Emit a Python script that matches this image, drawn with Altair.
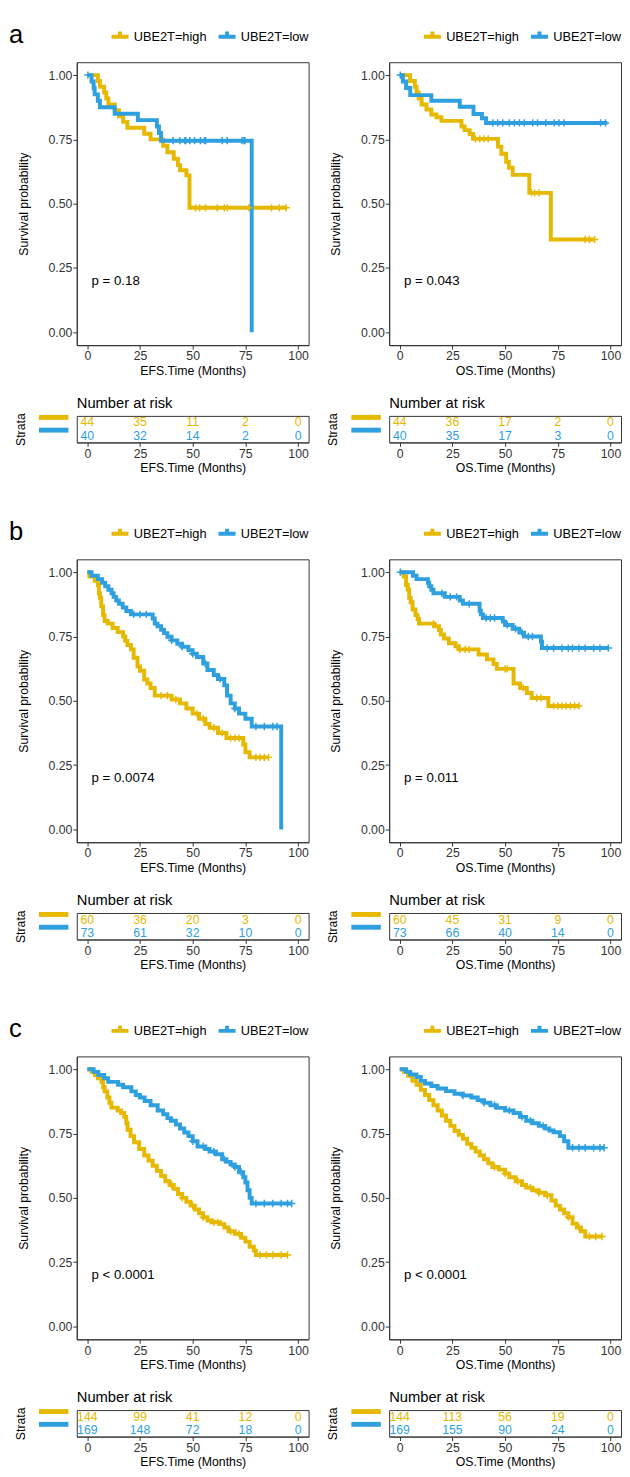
import bisect
import altair as alt
import pandas as pd

YEL = "#E7B800"
BLU = "#2E9FDF"
STRATA = ["UBE2T=high", "UBE2T=low"]
FONT = "Liberation Sans"
RISK_T = [0, 25, 50, 75, 100]

# ---------------- panel a ----------------
a_efs_high_t = [0, 5, 6, 8, 9, 10, 13, 15, 17, 19, 27, 30, 36, 38, 41, 43, 44, 47, 48.5, 94.5]
a_efs_high_s = [1.0, 0.977, 0.955, 0.932, 0.909, 0.886, 0.863, 0.84, 0.818, 0.795, 0.772, 0.75, 0.725, 0.70, 0.675, 0.65, 0.63, 0.61, 0.484, 0.484]
a_efs_high_c = [51.4, 53.3, 56.1, 61.7, 65, 66.4, 76.6, 87.4, 91.1, 94.4]
a_efs_low_t = [0, 2, 3, 3.5, 5, 6, 13, 24, 33, 34, 35, 78]
a_efs_low_s = [1.0, 0.975, 0.95, 0.925, 0.90, 0.875, 0.85, 0.825, 0.80, 0.775, 0.745, 0.0]
a_efs_low_c = [0.3, 40.7, 43.9, 46.3, 46.7, 48.6, 50.9, 53.7, 55.6, 56.1, 64, 66.4, 73.4, 74.3, 74.8]

a_os_high_t = [0, 4.9, 7.2, 8.0, 9.0, 10.4, 12.7, 15.0, 17.4, 19.8, 29.3, 30.8, 33.2, 34.8, 46.6, 48.2, 50.5, 51.8, 53.6, 61.5, 71.7, 92.5]
a_os_high_s = [1.0, 0.977, 0.955, 0.932, 0.909, 0.886, 0.866, 0.847, 0.836, 0.822, 0.80, 0.786, 0.771, 0.752, 0.722, 0.694, 0.663, 0.64, 0.612, 0.542, 0.361, 0.361]
a_os_high_c = [36, 38, 40, 42, 62.5, 64, 66, 88, 90, 92.5]
a_os_low_t = [0, 1.5, 3.0, 5.0, 15.0, 28.5, 35.0, 39.0, 41.0, 98.5]
a_os_low_s = [1.0, 0.975, 0.95, 0.922, 0.90, 0.877, 0.849, 0.832, 0.814, 0.814]
a_os_low_c = [0.3, 44.2, 46.5, 48.9, 52, 54.4, 56.8, 59.1, 63.1, 65.4, 69.3, 73.3, 75.6, 78, 95.3, 97.6]

a_efs_risk_high = [44, 35, 11, 2, 0]
a_efs_risk_low = [40, 32, 14, 2, 0]
a_os_risk_high = [44, 36, 17, 2, 0]
a_os_risk_low = [40, 35, 17, 3, 0]

# ---------------- panel b ----------------
b_efs_high_t = [0, 1, 3.5, 5, 5.5, 6, 6.6, 7.5, 8.2, 9.7, 12, 14.4, 17, 18, 19, 20.7, 22, 23.8, 25, 27, 28.5, 30, 32, 40, 44, 47, 50, 53, 56, 58, 62, 66, 74, 75, 77, 86]
b_efs_high_s = [1.0, 0.983, 0.967, 0.95, 0.917, 0.9, 0.867, 0.833, 0.81, 0.80, 0.783, 0.767, 0.75, 0.733, 0.717, 0.70, 0.667, 0.633, 0.617, 0.583, 0.567, 0.55, 0.52, 0.505, 0.49, 0.47, 0.45, 0.43, 0.41, 0.395, 0.375, 0.355, 0.33, 0.30, 0.28, 0.28]
b_efs_high_c = [35, 38, 42, 52, 55, 60, 64, 68, 70, 72, 80, 82, 84, 86]
b_efs_low_t = [0, 2, 5, 7, 8.5, 10, 11.5, 12.5, 13.7, 15, 16.8, 18.5, 20.7, 31, 32, 33.3, 35, 36.4, 38, 40, 42.7, 45, 48, 50, 52, 55, 57, 60, 62, 65, 66.3, 68, 70, 72, 75, 78, 92]
b_efs_low_s = [1.0, 0.986, 0.973, 0.959, 0.945, 0.932, 0.918, 0.904, 0.89, 0.877, 0.863, 0.849, 0.836, 0.82, 0.80, 0.79, 0.776, 0.763, 0.749, 0.735, 0.722, 0.71, 0.697, 0.683, 0.67, 0.645, 0.62, 0.60, 0.585, 0.56, 0.52, 0.49, 0.47, 0.45, 0.43, 0.40, 0.0]
b_efs_low_c = [22, 25, 28, 40, 45, 50, 56, 63, 70, 80, 84, 88, 90]

b_os_high_t = [0, 1.9, 3, 3.8, 4.5, 5.2, 6.1, 7.5, 8.5, 9.2, 16.3, 18.6, 19.5, 21, 23.3, 26.5, 28, 37.4, 41.4, 44.5, 46.1, 54, 57.1, 60.3, 62.6, 70.5, 85.4]
b_os_high_s = [1.0, 0.983, 0.95, 0.933, 0.9, 0.883, 0.855, 0.833, 0.817, 0.80, 0.79, 0.775, 0.758, 0.742, 0.724, 0.712, 0.70, 0.68, 0.661, 0.643, 0.624, 0.567, 0.55, 0.53, 0.511, 0.48, 0.48]
b_os_high_c = [16, 28.5, 31, 33, 50, 51, 58.5, 65, 67, 73, 75, 77, 79, 81, 83, 85]
b_os_low_t = [0, 6.3, 8, 13.4, 14, 15, 16, 21.4, 28.5, 30, 37.9, 38.5, 39.5, 48.9, 50, 53.6, 56.8, 59, 67, 67.5, 99]
b_os_low_s = [1.0, 0.986, 0.973, 0.959, 0.945, 0.932, 0.918, 0.904, 0.89, 0.877, 0.85, 0.836, 0.822, 0.808, 0.795, 0.78, 0.765, 0.75, 0.73, 0.705, 0.705]
b_os_low_c = [0.3, 20, 24, 27, 33, 41, 43, 45, 51, 55, 58, 61, 63, 70, 73, 77, 80, 82, 85, 88, 92, 95, 99]

b_efs_risk_high = [60, 36, 20, 3, 0]
b_efs_risk_low = [73, 61, 32, 10, 0]
b_os_risk_high = [60, 45, 31, 9, 0]
b_os_risk_low = [73, 66, 40, 14, 0]

# ---------------- panel c ----------------
c_efs_high_t = [0, 2, 3.6, 5, 6.7, 7.5, 8.2, 9.5, 10.5, 11.4, 14.4, 16, 17.5, 18.5, 19.1, 20.5, 22.2, 24.6, 27, 29, 31, 33, 35, 37, 39, 41, 43, 45, 47, 49, 51, 53, 55, 57, 59, 63, 65, 67, 70, 73, 75, 77, 79, 80, 95]
c_efs_high_s = [1.0, 0.99, 0.978, 0.965, 0.951, 0.93, 0.914, 0.89, 0.87, 0.851, 0.84, 0.83, 0.815, 0.79, 0.765, 0.74, 0.716, 0.69, 0.665, 0.645, 0.625, 0.605, 0.585, 0.565, 0.55, 0.535, 0.515, 0.50, 0.485, 0.47, 0.455, 0.44, 0.425, 0.412, 0.405, 0.398, 0.385, 0.37, 0.36, 0.345, 0.33, 0.31, 0.295, 0.278, 0.278]
c_efs_high_c = [40, 45, 50, 55, 60, 62, 68, 72, 82, 85, 88, 92, 95]
c_efs_low_t = [0, 3, 5.2, 8, 9.9, 14.6, 17, 20.9, 23, 25, 27.2, 30, 33.4, 36, 38, 39.7, 42, 44, 46, 48, 50, 52.3, 56, 58, 61, 64, 66, 68, 70, 72, 74, 75, 76, 77, 78, 97]
c_efs_low_s = [1.0, 0.99, 0.978, 0.965, 0.951, 0.94, 0.93, 0.914, 0.90, 0.89, 0.877, 0.86, 0.84, 0.825, 0.81, 0.80, 0.785, 0.77, 0.754, 0.74, 0.72, 0.70, 0.69, 0.68, 0.67, 0.65, 0.64, 0.63, 0.62, 0.60, 0.58, 0.56, 0.53, 0.50, 0.478, 0.478]
c_efs_low_c = [50, 55, 60, 65, 70, 73, 80, 84, 88, 92, 95, 97]

c_os_high_t = [0, 2, 4, 6, 8, 10, 12, 14, 16, 18, 20, 22, 24, 26, 28, 30, 32, 34, 36, 38, 40, 42, 44, 47, 50, 52, 55, 58, 60, 63, 66, 69, 72, 74, 76, 78, 80, 82, 84, 86, 88, 96]
c_os_high_s = [1.0, 0.99, 0.975, 0.955, 0.94, 0.92, 0.90, 0.88, 0.86, 0.84, 0.82, 0.80, 0.78, 0.76, 0.745, 0.73, 0.71, 0.695, 0.68, 0.665, 0.65, 0.635, 0.62, 0.61, 0.595, 0.58, 0.565, 0.55, 0.54, 0.53, 0.52, 0.51, 0.49, 0.47, 0.455, 0.44, 0.425, 0.40, 0.385, 0.37, 0.35, 0.35]
c_os_high_c = [45, 50, 56, 62, 66, 70, 80, 85, 90, 93, 96]
c_os_low_t = [0, 3, 5, 8, 10, 12, 15, 18, 22, 26, 30, 34, 37, 40, 43, 46, 50, 54, 57, 60, 63, 66, 69, 71, 73, 76, 78, 80, 97]
c_os_low_s = [1.0, 0.99, 0.98, 0.97, 0.955, 0.945, 0.935, 0.925, 0.915, 0.905, 0.898, 0.89, 0.88, 0.87, 0.86, 0.85, 0.84, 0.83, 0.815, 0.80, 0.79, 0.78, 0.77, 0.762, 0.755, 0.74, 0.72, 0.695, 0.695]
c_os_low_c = [30, 40, 45, 52, 58, 62, 68, 82, 85, 88, 92, 95, 97]

c_efs_risk_high = [144, 99, 41, 12, 0]
c_efs_risk_low = [169, 148, 72, 18, 0]
c_os_risk_high = [144, 113, 56, 19, 0]
c_os_risk_low = [169, 155, 90, 24, 0]

# ---------------- helpers ----------------
COLOR_SCALE = alt.Scale(domain=STRATA, range=[YEL, BLU])
X_SCALE = alt.Scale(domain=[-5, 105], nice=False, zero=False)
Y_SCALE = alt.Scale(domain=[-0.05, 1.05], nice=False, zero=False)
W = 236
KM_H = 288
RISK_H = 27


def curve_df(t, s, name):
    return pd.DataFrame({"t": t, "s": s, "strata": name})


def censor_df(ct, t, s, name):
    vals = [s[max(bisect.bisect_right(t, c) - 1, 0)] for c in ct]
    return pd.DataFrame({"t": ct, "s": vals, "strata": name})


def km_chart(hi, lo, pval, xtitle, letter=None):
    curves = pd.concat([curve_df(hi[0], hi[1], STRATA[0]), curve_df(lo[0], lo[1], STRATA[1])])
    cens = pd.concat([censor_df(hi[2], hi[0], hi[1], STRATA[0]), censor_df(lo[2], lo[0], lo[1], STRATA[1])])
    legend = alt.Legend(
        orient="none", legendX=33, legendY=-37, direction="horizontal", title=None,
        symbolType="M-1,0H1M0,-0.15V-0.6", symbolSize=300, symbolStrokeWidth=4,
        labelFontSize=13, labelFont=FONT, labelColor="black", labelOffset=3,
        columnPadding=3, padding=0,
    )
    x = alt.X("t:Q", scale=X_SCALE, axis=alt.Axis(values=RISK_T, title=xtitle))
    y = alt.Y("s:Q", scale=Y_SCALE, axis=alt.Axis(values=[0, 0.25, 0.5, 0.75, 1.0], format=".2f",
                                                   title="Survival probability", titlePadding=18))
    line = alt.Chart(curves).mark_line(interpolate="step-after", strokeWidth=4, clip=True).encode(
        x=x, y=y, color=alt.Color("strata:N", scale=COLOR_SCALE, legend=legend)
    )
    pts = alt.Chart(cens).mark_point(shape="M-1,0H1M0,-1V1", size=56, strokeWidth=1.5, filled=False,
                                      opacity=1, clip=True).encode(
        x="t:Q", y="s:Q", color=alt.Color("strata:N", scale=COLOR_SCALE, legend=None)
    )
    ptxt = alt.Chart(pd.DataFrame({"p": [pval]})).mark_text(
        align="left", baseline="middle", fontSize=13.5, font=FONT, color="black"
    ).encode(x=alt.datum(2), y=alt.datum(0.2), text="p:N")
    layers = [line, pts, ptxt]
    if letter:
        lab = alt.Chart(pd.DataFrame({"l": [letter]})).mark_text(
            align="left", baseline="alphabetic", fontSize=26, font=FONT, color="black"
        ).encode(x=alt.value(-69), y=alt.value(-20), text="l:N")
        layers.append(lab)
    return alt.layer(*layers).properties(width=W, height=KM_H)


def risk_chart(hi, lo, xtitle):
    df = pd.DataFrame({"t": RISK_T + RISK_T, "n": hi + lo,
                       "strata": [STRATA[0]] * 5 + [STRATA[1]] * 5})
    return alt.Chart(df).mark_text(fontSize=12.5, font=FONT, baseline="middle").encode(
        x=alt.X("t:Q", scale=X_SCALE, axis=alt.Axis(values=RISK_T, title=xtitle)),
        y=alt.Y("strata:N", scale=alt.Scale(domain=STRATA, type="point", padding=0.5),
                axis=alt.Axis(title="Strata", labels=False, domain=False, tickSize=30, tickWidth=5,
                              offset=9, tickOffset=-6, titlePadding=9,
                              tickColor={"condition": {"test": "datum.value == 'UBE2T=high'", "value": YEL},
                                         "value": BLU})),
        text="n:Q",
        color=alt.Color("strata:N", scale=COLOR_SCALE, legend=None),
    ).properties(width=W, height=RISK_H,
                 title=alt.TitleParams("Number at risk", anchor="start", frame="group", fontSize=15,
                                       font=FONT, fontWeight="normal", color="black", offset=2))


def column(hi, lo, pval, xtitle, rhi, rlo, letter=None):
    return alt.vconcat(km_chart(hi, lo, pval, xtitle, letter), risk_chart(rhi, rlo, xtitle),
                       spacing=18).resolve_scale(color="independent", x="independent", y="independent"
                                                  ).resolve_legend(color="independent")


def row(left, right):
    return alt.hconcat(left, right, spacing=17).resolve_scale(
        color="independent", x="independent", y="independent").resolve_legend(color="independent")


row_a = row(
    column((a_efs_high_t, a_efs_high_s, a_efs_high_c), (a_efs_low_t, a_efs_low_s, a_efs_low_c),
           "p = 0.18", "EFS.Time (Months)", a_efs_risk_high, a_efs_risk_low, "a"),
    column((a_os_high_t, a_os_high_s, a_os_high_c), (a_os_low_t, a_os_low_s, a_os_low_c),
           "p = 0.043", "OS.Time (Months)", a_os_risk_high, a_os_risk_low),
)
row_b = row(
    column((b_efs_high_t, b_efs_high_s, b_efs_high_c), (b_efs_low_t, b_efs_low_s, b_efs_low_c),
           "p = 0.0074", "EFS.Time (Months)", b_efs_risk_high, b_efs_risk_low, "b"),
    column((b_os_high_t, b_os_high_s, b_os_high_c), (b_os_low_t, b_os_low_s, b_os_low_c),
           "p = 0.011", "OS.Time (Months)", b_os_risk_high, b_os_risk_low),
)
row_c = row(
    column((c_efs_high_t, c_efs_high_s, c_efs_high_c), (c_efs_low_t, c_efs_low_s, c_efs_low_c),
           "p < 0.0001", "EFS.Time (Months)", c_efs_risk_high, c_efs_risk_low, "c"),
    column((c_os_high_t, c_os_high_s, c_os_high_c), (c_os_low_t, c_os_low_s, c_os_low_c),
           "p < 0.0001", "OS.Time (Months)", c_os_risk_high, c_os_risk_low),
)

chart = alt.vconcat(row_a, row_b, row_c, spacing=44).resolve_scale(
    color="independent", x="independent", y="independent").resolve_legend(color="independent"
).properties(background="white", padding=0).configure_view(
    stroke="#333333", strokeWidth=1
).configure_axis(
    labelFont=FONT, labelFontSize=12.5, labelColor="#333333", titleFont=FONT, titleFontSize=12.5,
    titleFontWeight="normal", titleColor="black", tickColor="#333333", domainColor="#333333",
    tickSize=4, labelPadding=1, grid=False, titlePadding=2,
)

chart.save("out.html", embed_options={"renderer": "svg", "actions": False})
